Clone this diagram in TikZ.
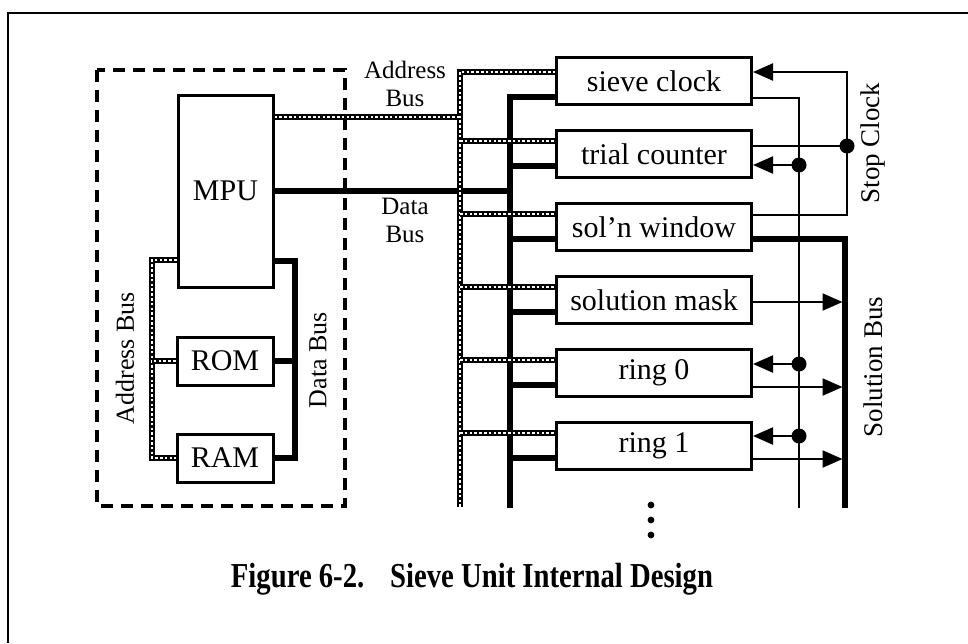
\documentclass[tikz,border=0pt]{standalone}
\usepackage{graphicx}
\usepackage{fontspec}
\setmainfont{Liberation Serif}
\usepackage{tikz}
\usetikzlibrary{arrows.meta,calc,backgrounds}
\tikzset{
  >={Triangle[length=20pt,width=17pt]},
  every node/.style={font=\fontsize{30}{34}\selectfont,text=black},
  unit/.style={draw,line width=3pt,fill=white,minimum width=195pt,minimum height=47pt,inner sep=0pt},
  mem/.style={unit,minimum width=96pt,minimum height=48pt},
  addr/.style={line width=5.6pt,draw=black,postaction={draw=white,line width=2.4pt,dash pattern=on 2.6pt off 2.2pt}},
  data/.style={line width=6pt,draw=black},
  sig/.style={line width=2.2pt,draw=black},
  tap/.style={circle,fill=black,inner sep=0pt,minimum size=15pt},
  grp/.style={line width=3.2pt,dash pattern=on 12pt off 8pt},
  lbl/.style={font=\fontsize{25}{28}\selectfont,align=center,inner sep=0pt},
  side/.style={font=\fontsize{27}{30}\selectfont,rotate=90,inner sep=0pt}
}

\begin{document}
\begin{tikzpicture}[x=1pt,y=-1pt]
  \useasboundingbox (0,0) rectangle (968,643);
  \draw[line width=2.4pt] (8,643) -- (8,13) -- (968,13);

  % processor board
  \draw[grp] (97,70) rectangle (345,506);
  \node[unit,minimum width=95pt,minimum height=192pt] (mpu) at (225.5,191) {MPU};
  \node[mem] (rom) at (225,361) {ROM};
  \node[mem] (ram) at (225,458) {RAM};

  % sieve registers
  \node[unit] (sieve) at (654,81) {sieve clock};
  \node[unit] (trial) at (654,154) {trial counter};
  \node[unit] (window) at (654,227) {sol'n window};
  \node[unit] (mask) at (654,300) {solution mask};
  \node[unit] (ring0) at (654,373) {ring 0};
  \node[unit] (ring1) at (654,446) {ring 1};

  \coordinate (abus top) at (460,72);
  \coordinate (abus bot) at (460,507);
  \coordinate (dbus top) at (510,97);
  \coordinate (dbus bot) at (510,508);
  \coordinate (labus) at (152,260);
  \coordinate (ldbus) at (295,261);
  \coordinate (clk bot) at (799,508);
  \coordinate (stop top) at (847,72);
  \coordinate (sbus bot) at (845,508);

  \begin{scope}[on background layer]
    % data bus
    \draw[data] (dbus bot) -- (dbus top) -- (dbus top -| sieve.west);
    \draw[data] (mpu.east) -- (mpu.east -| dbus top);
    \foreach \n in {trial,window,mask,ring0,ring1}
      \draw[data] ([yshift=-12pt]\n.west -| dbus top) -- ([yshift=-12pt]\n.west);
    \draw[data] (mpu.east |- ldbus) -- (ldbus) |- (ram.east);
    \draw[data] (rom.east) -- (rom.east -| ldbus);
    % address bus
    \draw[addr] (abus bot) -- (abus top) -- (abus top -| sieve.west);
    \draw[addr] ([yshift=74pt]mpu.east) -- ([yshift=74pt]mpu.east -| abus top);
    \foreach \n in {trial,window,mask,ring0,ring1}
      \draw[addr] ([yshift=13pt]\n.west -| abus top) -- ([yshift=13pt]\n.west);
    \draw[addr] (mpu.west |- labus) -- (labus) |- (ram.west);
    \draw[addr] (rom.west) -- (rom.west -| labus);
    % clock and stop clock
    \draw[sig] ([yshift=-17pt]sieve.east) -| (clk bot);
    \draw[sig,->] ([yshift=12pt]window.east) -| (stop top) -- ([yshift=9pt]sieve.east);
    \draw[sig] ([yshift=8pt]trial.east) -- ([yshift=8pt]trial.east -| stop top) node[tap]{};
    \foreach \n/\s in {trial/-11,ring0/9,ring1/10}
      \draw[sig,->] ([yshift=\s pt]\n.east -| clk bot) node[tap]{} -- ([yshift=\s pt]\n.east);
    % solution bus
    \draw[data] ([yshift=-12pt]window.east) -| (sbus bot);
    \foreach \n/\s in {mask/-2,ring0/-14,ring1/-13}
      \draw[sig,->,shorten >=2.5pt] ([yshift=\s pt]\n.east) -- ([yshift=\s pt]\n.east -| sbus bot);
  \end{scope}

  \node[lbl] (abus lbl) at (405,84) {Address\\Bus};
  \node[lbl] (dbus lbl) at (405,220) {Data\\Bus};
  \node[side,font=\fontsize{26}{28}\selectfont] (labus lbl) at (125,358) {Address Bus};
  \node[side,font=\fontsize{26}{28}\selectfont] (ldbus lbl) at (318,360) {Data Bus};
  \node[side] (stop lbl) at (873,143) {Stop Clock};
  \node[side] (sbus lbl) at (873,367) {Solution Bus};

  \foreach \y in {505,520,535}
    \fill (651,\y) circle (3.4pt);

  \node[font=\fontsize{35}{40}\selectfont\bfseries] (caption) at (472,579)
    {\scalebox{0.82}[1]{Figure 6-2.\hspace{0.9em}Sieve Unit Internal Design}};
\end{tikzpicture}
\end{document}
